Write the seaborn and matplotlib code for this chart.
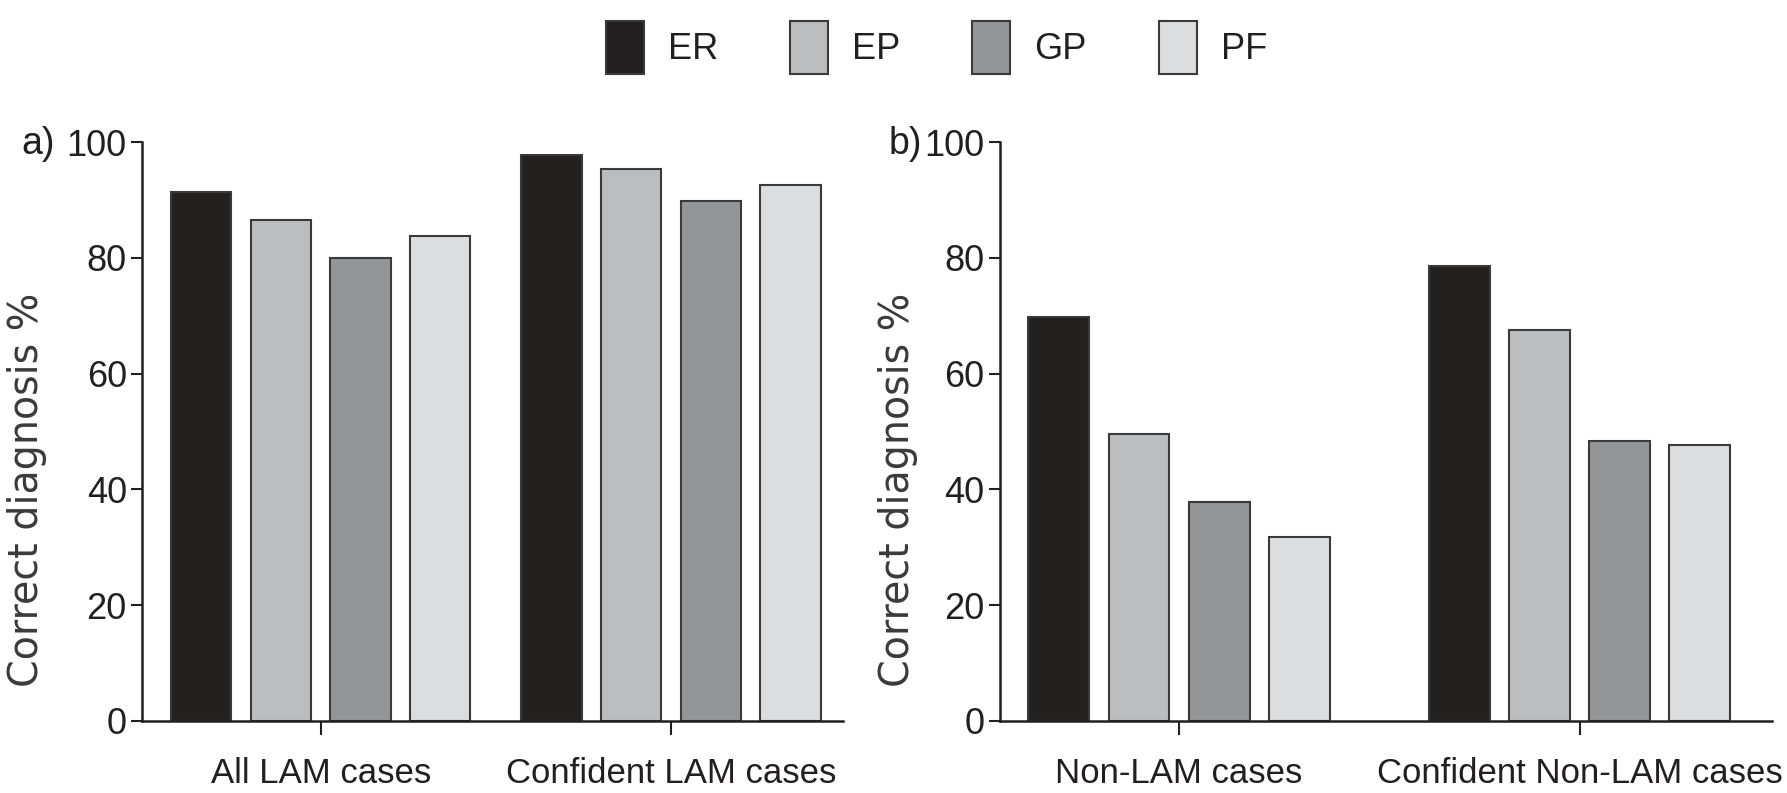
import numpy as np
import pandas as pd
import matplotlib
matplotlib.use('Agg')
import matplotlib.pyplot as plt
import seaborn as sns
from matplotlib.patches import Patch

# data
methods = ['ER', 'EP', 'GP', 'PF']
colors = ['#231f20', '#bcbdbe', '#939598', '#dcddde']

cases_a = ['All LAM cases', 'Confident LAM cases']
all_lam = [91.3, 86.5, 79.9, 83.7]
conf_lam = [97.8, 95.4, 89.8, 92.6]

cases_b = ['Non-LAM cases', 'Confident Non-LAM cases']
non_lam = [69.8, 49.5, 37.8, 31.8]
conf_non_lam = [78.6, 67.6, 48.3, 47.6]

def make_df(cases, s1, s2):
    rows = []
    for m, v in zip(methods, s1):
        rows.append((cases[0], m, v))
    for m, v in zip(methods, s2):
        rows.append((cases[1], m, v))
    return pd.DataFrame(rows, columns=['case', 'method', 'pct'])

df_a = make_df(cases_a, all_lam, conf_lam)
df_b = make_df(cases_b, non_lam, conf_non_lam)

sns.set_style('white')
plt.rcParams['font.family'] = ['Liberation Sans', 'DejaVu Sans']

ink = '#231f20'
fig = plt.figure(figsize=(17.87, 7.93), dpi=100)
ax_a = fig.add_axes([0.0795, 0.0908, 0.392, 0.730])
ax_b = fig.add_axes([0.5596, 0.0908, 0.432, 0.730])

setups = [(ax_a, df_a, cases_a, 0.91, (-0.51, 1.49), -0.135),
          (ax_b, df_b, cases_b, 0.80, (-0.447, 1.48), -0.106)]

for ax, d, cases, w, xl, lx in setups:
    sns.barplot(data=d, x='case', y='pct', hue='method', order=cases,
                hue_order=methods, palette=colors, width=w, gap=0.24,
                edgecolor='#3a3a3a', linewidth=1.5, ax=ax, legend=False)
    ax.set_xlim(*xl)
    ax.set_ylim(0, 100)
    ax.set_yticks([0, 20, 40, 60, 80, 100])
    ax.set_xlabel('')
    ax.set_ylabel('Correct diagnosis %', fontsize=28.5, color='#3a3a3a',
                  family=['DejaVu Sans'])
    ax.yaxis.set_label_coords(lx, 0.40)
    sns.despine(ax=ax)
    for sp in ['left', 'bottom']:
        ax.spines[sp].set_linewidth(1.8)
        ax.spines[sp].set_color(ink)
    ax.tick_params(axis='y', direction='out', length=8, width=1.5,
                   color=ink, labelsize=26, labelcolor=ink, pad=3, left=True)
    ax.tick_params(axis='x', direction='out', length=10, width=1.5,
                   color=ink, labelsize=25, labelcolor=ink, pad=16, bottom=True)

fig.text(0.012, 0.818, 'a)', fontsize=27, color=ink, ha='left', va='center')
fig.text(0.497, 0.818, 'b)', fontsize=27, color=ink, ha='left', va='center')

handles = [Patch(facecolor=c, edgecolor='#3a3a3a', linewidth=1.5) for c in colors]
fig.legend(handles, methods, loc='center', bbox_to_anchor=(0.524, 0.94), ncol=4,
           frameon=False, fontsize=26, handlelength=1.05, handleheight=1.9,
           handletextpad=0.66, columnspacing=2.0, labelcolor=ink)

fig.savefig('out.png', dpi=100)
